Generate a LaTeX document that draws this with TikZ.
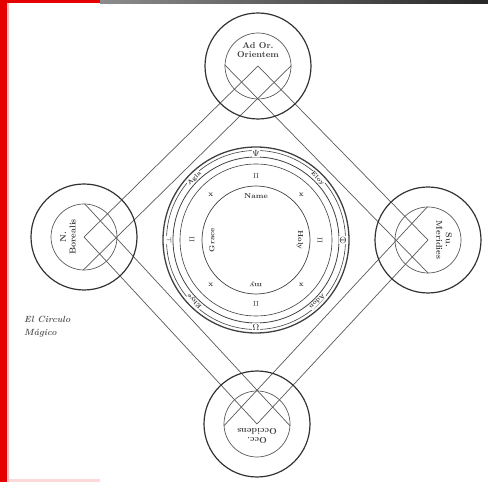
\documentclass[tikz,border=0pt]{standalone}
\usetikzlibrary{calc}
\tikzset{
  sat/.style={circle, draw=black!80, line width=1.2pt, minimum size=106pt, inner sep=0pt},
  satin/.style={circle, draw=black!65, line width=0.7pt, minimum size=66pt, inner sep=0pt},
  edge/.style={draw=black!65, line width=0.7pt},
  ring/.style={draw=black!75},
  satlbl/.style={font=\fontsize{8.6}{9.5}\selectfont\bfseries, align=center, inner sep=0pt, text=black!75},
  glyph/.style={font=\fontsize{9}{9}\selectfont\bfseries, fill=white, inner sep=0.6pt, text=black!85},
  word/.style={font=\fontsize{6}{6}\selectfont\bfseries, fill=white, inner sep=0.3pt, text=black!80},
  sign/.style={font=\fontsize{7.5}{8}\selectfont\bfseries, inner sep=0pt, text=black!80},
  inword/.style={font=\fontsize{7.2}{8}\selectfont\bfseries, inner sep=0pt, text=black!75},
  capt/.style={font=\fontsize{9}{13}\selectfont\bfseries\itshape, align=left, inner sep=0pt, text=black!65}
}
\begin{document}
\begin{tikzpicture}[x=1pt, y=1pt]
\useasboundingbox (0,0) rectangle (488,482);
\fill[red!90!black] (0,0) rectangle (7,482);
\fill[red!25] (7,0) rectangle (9,482);
\shade[left color=black!45, right color=black!85] (100,478) rectangle (488,482);
\fill[red!90!black] (0,479) rectangle (100,482);
\fill[red!15] (9,0) rectangle (100,3);

\coordinate (M) at (256,242);
\coordinate (T) at (258,416);
\coordinate (L) at (84,245);
\coordinate (R) at (428,242);
\coordinate (B) at (257,58);

\draw[edge] (T) -- (L) -- (B) -- (R) -- cycle;
\foreach \a/\b in {T/L, L/B, B/R, R/T} {
  \coordinate (\a\b) at ($(\a)!23pt!90:(\b)$);
  \coordinate (\b\a) at ($(\b)!23pt!-90:(\a)$);
  \draw[edge] ($(\a\b)!-24pt!(\b\a)$) -- ($(\b\a)!-24pt!(\a\b)$);
}

\foreach \s in {T, L, R, B} {
  \node[sat] (\s-out) at (\s) {};
  \node[satin] (\s-in) at (\s) {};
}
\node[satlbl] (T-txt) at ($(T)+(0,16)$) {Ad Or.\\Orientem};
\node[satlbl, rotate=90] (L-txt) at ($(L)+(-16,0)$) {N.\\Borealis};
\node[satlbl, rotate=-90] (R-txt) at ($(R)+(16,0)$) {Su.\\Meridies};
\node[satlbl, rotate=180] (B-txt) at ($(B)+(0,-12)$) {Occ.\\Occidens};

\draw[ring, line width=1.3pt] (M) circle (93pt);
\draw[ring, line width=0.6pt] (M) circle (89.5pt);
\draw[ring, line width=0.8pt] (M) circle (83pt);
\draw[ring, line width=0.6pt] (M) circle (76pt);
\draw[ring, line width=0.7pt] (M) circle (54pt);

\node[glyph] (g-n) at ($(M)+(90:87pt)$) {$\Psi$};
\node[glyph] (g-e) at ($(M)+(0:87pt)$) {$\Theta$};
\node[glyph] (g-s) at ($(M)+(270:87pt)$) {$\Omega$};
\node[glyph] (g-w) at ($(M)+(180:87pt)$) {$\dashv$};
\foreach \ang/\txt in {45/Eloy, 135/Agla, 225/Ehye, 315/Adon}
  \node[word, rotate=\ang-90] (w-\ang) at ($(M)+(\ang:87pt)$) {\txt};

\foreach \ang in {90, 0, 270, 180}
  \node[sign, rotate=\ang-90] (s-\ang) at ($(M)+(\ang:64pt)$) {$\Pi$};
\foreach \ang in {45, 315, 225, 135}
  \node[sign] (s-\ang) at ($(M)+(\ang:64pt)$) {x};

\foreach \ang/\txt in {90/Name, 0/Holy, 270/my, 180/Grace}
  \node[inword, rotate=\ang-90] (i-\ang) at ($(M)+(\ang:44pt)$) {\txt};

\node[capt, anchor=north west] (caption) at (24,166) {El Circulo\\Mágico};
\end{tikzpicture}
\end{document}
